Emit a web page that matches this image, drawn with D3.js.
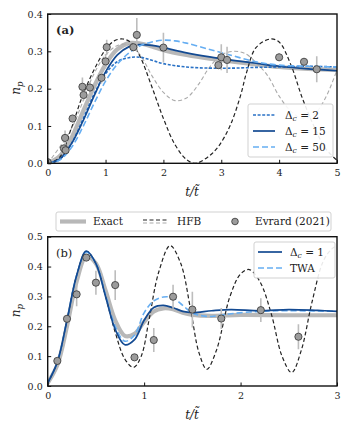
<!DOCTYPE html>
<html>
<head>
<meta charset="utf-8">
<script src="https://cdn.jsdelivr.net/npm/d3@7"></script>
<style>
  body { margin: 0; background: #fff; }
  text { font-family: "DejaVu Serif", serif; }
</style>
</head>
<body>
<div id="chart"></div>
<script>
// ---- panel (a) curves, [t, n_p] ----
const exactA = [[0,0],[0.2,0.018],[0.4,0.065],[0.6,0.135],[0.8,0.205],[1.0,0.265],[1.2,0.305],[1.4,0.322],[1.6,0.321],[1.8,0.313],[2.0,0.303],[2.4,0.29],[2.8,0.28],[3.2,0.272],[3.6,0.265],[4.0,0.258],[4.5,0.253],[5.0,0.25]];
const hfbA = [[0,0],[0.2,0.015],[0.4,0.09],[0.6,0.18],[0.8,0.25],[1.0,0.305],[1.15,0.328],[1.3,0.333],[1.45,0.322],[1.6,0.285],[1.8,0.205],[2.0,0.12],[2.2,0.05],[2.4,0.01],[2.55,0],[2.77,0.017],[2.95,0.045],[3.15,0.1],[3.33,0.18],[3.44,0.245],[3.6,0.31],[3.85,0.333],[4.0,0.325],[4.2,0.265],[4.4,0.175],[4.6,0.1],[4.8,0.04],[5.0,0.008]];
const hfbGrayA = [[0,0],[0.4,0.09],[0.8,0.24],[1.0,0.29],[1.2,0.315],[1.4,0.318],[1.6,0.29],[1.8,0.235],[2.0,0.19],[2.2,0.168],[2.4,0.175],[2.6,0.21],[2.8,0.258],[3.0,0.29],[3.2,0.3],[3.4,0.295],[3.6,0.27],[3.8,0.235],[4.0,0.18],[4.2,0.14],[4.4,0.12],[4.6,0.13],[4.8,0.175],[5.0,0.25]];
const dc2A = [[0,0],[0.2,0.01],[0.4,0.05],[0.6,0.115],[0.8,0.185],[1.0,0.24],[1.2,0.272],[1.4,0.283],[1.6,0.284],[1.8,0.276],[2.0,0.267],[2.4,0.258],[2.8,0.255],[3.2,0.255],[3.6,0.257],[4.0,0.258],[4.5,0.26],[5.0,0.258]];
const dc15A = [[0,0],[0.2,0.01],[0.4,0.05],[0.6,0.11],[0.8,0.18],[1.0,0.245],[1.2,0.29],[1.4,0.312],[1.6,0.318],[1.8,0.316],[2.0,0.31],[2.4,0.296],[2.8,0.285],[3.2,0.276],[3.6,0.268],[4.0,0.26],[4.5,0.253],[5.0,0.248]];
const dc50A = [[0,0],[0.2,0.008],[0.4,0.04],[0.6,0.095],[0.8,0.16],[1.0,0.22],[1.2,0.265],[1.4,0.295],[1.6,0.315],[1.8,0.325],[2.0,0.33],[2.2,0.328],[2.4,0.322],[2.8,0.305],[3.2,0.288],[3.6,0.272],[4.0,0.263],[4.5,0.26],[5.0,0.258]];

// Evrard (2021) points, panel (a)
const evrA_t = [0.0, 0.28, 0.30, 0.31, 0.43, 0.60, 0.62, 0.73, 0.93, 1.0, 1.02, 1.48, 1.54, 2.0, 2.95, 3.0, 3.1, 4.0, 4.43, 4.65];
const evrA_n = [0.003, 0.04, 0.068, 0.035, 0.12, 0.205, 0.183, 0.203, 0.229, 0.273, 0.311, 0.311, 0.344, 0.31, 0.263, 0.284, 0.277, 0.284, 0.272, 0.252];
const evrA_e = [0.005, 0.01, 0.02, 0.01, 0.01, 0.025, 0.015, 0.015, 0.015, 0.02, 0.02, 0.01, 0.045, 0.04, 0.01, 0.035, 0.035, 0.01, 0.01, 0.035];

// ---- panel (b) curves ----
const exactB = [[0,0.01],[0.1,0.07],[0.2,0.2],[0.3,0.35],[0.4,0.435],[0.5,0.41],[0.6,0.32],[0.7,0.22],[0.8,0.168],[0.9,0.175],[1.0,0.215],[1.1,0.25],[1.2,0.26],[1.3,0.257],[1.4,0.245],[1.5,0.238],[1.7,0.235],[2.0,0.238],[2.5,0.237],[3.0,0.237]];
const hfbB = [[0,0.01],[0.1,0.08],[0.2,0.22],[0.3,0.37],[0.4,0.45],[0.5,0.41],[0.6,0.3],[0.7,0.18],[0.8,0.09],[0.89,0.062],[0.97,0.1],[1.05,0.22],[1.15,0.38],[1.27,0.47],[1.38,0.41],[1.48,0.26],[1.57,0.11],[1.65,0.056],[1.75,0.12],[1.89,0.3],[2.0,0.375],[2.09,0.39],[2.2,0.35],[2.32,0.24],[2.43,0.1],[2.53,0.045],[2.63,0.12],[2.74,0.28],[2.86,0.42],[2.95,0.46],[3.0,0.47]];
const dc1B = [[0,0.01],[0.1,0.08],[0.2,0.22],[0.3,0.37],[0.4,0.452],[0.5,0.41],[0.6,0.3],[0.7,0.19],[0.8,0.138],[0.9,0.155],[1.0,0.22],[1.1,0.263],[1.2,0.27],[1.3,0.262],[1.4,0.25],[1.5,0.246],[1.7,0.252],[1.9,0.256],[2.2,0.252],[2.5,0.256],[2.8,0.253],[3.0,0.25]];
const twaB = [[0,0.01],[0.1,0.08],[0.2,0.22],[0.3,0.37],[0.4,0.448],[0.5,0.41],[0.6,0.305],[0.7,0.2],[0.8,0.15],[0.9,0.17],[1.0,0.245],[1.1,0.285],[1.2,0.298],[1.3,0.295],[1.4,0.27],[1.5,0.245],[1.6,0.235],[1.7,0.233],[1.9,0.242],[2.2,0.25],[2.5,0.252],[3.0,0.25]];

// Evrard (2021) points, panel (b)
const evrB_t = [0.1, 0.2, 0.3, 0.4, 0.5, 0.7, 0.9, 1.1, 1.3, 1.5, 1.8, 2.21, 2.6];
const evrB_n = [0.084, 0.225, 0.307, 0.43, 0.346, 0.338, 0.096, 0.154, 0.299, 0.256, 0.226, 0.254, 0.165];
const evrB_e = [0.01, 0.01, 0.04, 0.01, 0.04, 0.05, 0.01, 0.04, 0.04, 0.06, 0.035, 0.04, 0.042];

const ticksA_x = [0, 1, 2, 3, 4, 5];
const ticksA_y = [0, 0.1, 0.2, 0.3, 0.4];
const ticksB_x = [0, 1, 2, 3];
const ticksB_y = [0, 0.1, 0.2, 0.3, 0.4, 0.5];

// colours
const cExact = "#b8b8b8", cHfb = "#222", cHfbGray = "#aaaaaa";
const cDc2 = "#2a72c6", cDc15 = "#134a92", cDc50 = "#66aef2";
const cPt = "#9c9c9c", cErr = "#bdbdbd";

const svg = d3.select("#chart").append("svg").attr("width", 350).attr("height", 432);

function panel(opt) {
  const x = d3.scaleLinear().domain(opt.xDom).range([47.7, 337]);
  const y = d3.scaleLinear().domain(opt.yDom).range([opt.bottom, opt.top]);
  const g = svg.append("g");

  g.append("clipPath").attr("id", opt.id)
    .append("rect").attr("x", 47.7).attr("y", opt.top)
    .attr("width", 337 - 47.7).attr("height", opt.bottom - opt.top);

  const plot = g.append("g").attr("clip-path", `url(#${opt.id})`);
  const line = d3.line().x(d => x(d[0])).y(d => y(d[1])).curve(d3.curveCatmullRom.alpha(0.5));

  opt.series.forEach(s => {
    plot.append("path").attr("d", line(s.data))
      .attr("fill", "none").attr("stroke", s.color).attr("stroke-width", s.w)
      .attr("stroke-dasharray", s.dash || null).attr("stroke-linecap", s.dash ? "butt" : "round");
  });

  // error bars + points
  const pts = opt.pt.map((t, i) => ({ t, n: opt.pn[i], e: opt.pe[i] }));
  plot.selectAll(".err").data(pts).enter().append("line")
    .attr("x1", d => x(d.t)).attr("x2", d => x(d.t))
    .attr("y1", d => y(d.n - d.e)).attr("y2", d => y(d.n + d.e))
    .attr("stroke", cErr).attr("stroke-width", 1.6);
  plot.selectAll(".pt").data(pts).enter().append("circle")
    .attr("cx", d => x(d.t)).attr("cy", d => y(d.n)).attr("r", 3.6)
    .attr("fill", cPt).attr("stroke", "#333").attr("stroke-width", 0.8);

  // axes, ticks pointing inward
  const ax = g.append("g").attr("transform", `translate(0,${opt.bottom})`)
    .call(d3.axisBottom(x).tickValues(opt.xt).tickFormat(d3.format("d")).tickSizeInner(-3.5).tickSizeOuter(0).tickPadding(6));
  const ay = g.append("g").attr("transform", "translate(47.7,0)")
    .call(d3.axisLeft(y).tickValues(opt.yt).tickFormat(d3.format(".1f")).tickSizeInner(-3.5).tickSizeOuter(0).tickPadding(5));
  [ax, ay].forEach(a => {
    a.select(".domain").remove();
    a.selectAll(".tick line").attr("stroke", "#111").attr("stroke-width", 1);
    a.selectAll("text").attr("font-family", "DejaVu Serif").attr("font-size", 9.5).attr("fill", "#222");
  });

  g.append("rect").attr("x", 47.7).attr("y", opt.top)
    .attr("width", 337 - 47.7).attr("height", opt.bottom - opt.top)
    .attr("fill", "none").attr("stroke", "#111").attr("stroke-width", 1.4);

  // panel letter
  g.append("text").attr("x", 56).attr("y", opt.top + 20).attr("font-size", 11.5)
    .attr("font-weight", opt.bold ? "bold" : "normal").attr("fill", "#222").text(opt.label);

  // y label n_p
  const yl = g.append("text").attr("transform", `translate(20,${(opt.top + opt.bottom) / 2 + 6}) rotate(-90)`)
    .attr("font-size", 12).attr("fill", "#222");
  yl.append("tspan").attr("font-style", "italic").text("n");
  yl.append("tspan").attr("font-style", "italic").attr("font-size", 8.5).attr("dy", 3).text("p");

  // x label t/t~
  g.append("text").attr("x", 192).attr("y", opt.bottom + 33).attr("text-anchor", "middle")
    .attr("font-size", 12).attr("font-style", "italic").attr("fill", "#222").text("t/t\u0303");

  return { x, y };
}

panel({
  id: "clipA", top: 14, bottom: 163.3, xDom: [0, 5], yDom: [0, 0.4], xt: ticksA_x, yt: ticksA_y,
  label: "(a)", bold: true,
  series: [
    { data: exactA, color: cExact, w: 4.2 },
    { data: hfbGrayA, color: cHfbGray, w: 1.1, dash: "4,2.5" },
    { data: hfbA, color: cHfb, w: 1.2, dash: "4,2.5" },
    { data: dc2A, color: cDc2, w: 1.6, dash: "3,1.6" },
    { data: dc15A, color: cDc15, w: 1.7 },
    { data: dc50A, color: cDc50, w: 1.6, dash: "6,3" }
  ],
  pt: evrA_t, pn: evrA_n, pe: evrA_e
});

panel({
  id: "clipB", top: 236.7, bottom: 386, xDom: [0, 3], yDom: [0, 0.5], xt: ticksB_x, yt: ticksB_y,
  label: "(b)", bold: false,
  series: [
    { data: exactB, color: cExact, w: 4.2 },
    { data: hfbB, color: cHfb, w: 1.2, dash: "4,2.5" },
    { data: twaB, color: cDc50, w: 1.6, dash: "6,3" },
    { data: dc1B, color: cDc15, w: 1.7 }
  ],
  pt: evrB_t, pn: evrB_n, pe: evrB_e
});

// ---- legends ----
function legendBox(x, y, w, h) {
  svg.append("rect").attr("x", x).attr("y", y).attr("width", w).attr("height", h).attr("rx", 2)
    .attr("fill", "#fff").attr("fill-opacity", 0.9).attr("stroke", "#cccccc").attr("stroke-width", 0.9);
}
function deltaLabel(x, y, val) {
  const t = svg.append("text").attr("x", x).attr("y", y + 3.5).attr("font-size", 10.5).attr("fill", "#222");
  t.append("tspan").text("\u0394");
  t.append("tspan").attr("font-style", "italic").attr("font-size", 7.5).attr("dy", 2.5).text("c");
  t.append("tspan").attr("dy", -2.5).text(" = " + val);
}

// panel (a) legend
const legA = [
  { v: "2", color: cDc2, dash: "3,1.6" },
  { v: "15", color: cDc15, dash: null },
  { v: "50", color: cDc50, dash: "6,3" }
];
legendBox(248, 104, 85, 53);
legA.forEach((d, i) => {
  const yy = 115 + i * 16;
  svg.append("line").attr("x1", 253).attr("x2", 275).attr("y1", yy).attr("y2", yy)
    .attr("stroke", d.color).attr("stroke-width", 1.7).attr("stroke-dasharray", d.dash);
  deltaLabel(285, yy, d.v);
});

// panel (b) legend
legendBox(254, 242, 81, 36);
[{ v: "dc", color: cDc15, dash: null, y: 252 }, { v: "twa", color: cDc50, dash: "6,3", y: 268 }].forEach(d => {
  svg.append("line").attr("x1", 258).attr("x2", 282).attr("y1", d.y).attr("y2", d.y)
    .attr("stroke", d.color).attr("stroke-width", 1.7).attr("stroke-dasharray", d.dash);
});
deltaLabel(290, 252, "1");
svg.append("text").attr("x", 290).attr("y", 271.5).attr("font-size", 10.5).attr("fill", "#222").text("TWA");

// shared legend between the panels
legendBox(56, 212, 275, 19);
const ly = 221.5;
svg.append("line").attr("x1", 60).attr("x2", 86).attr("y1", ly).attr("y2", ly)
  .attr("stroke", cExact).attr("stroke-width", 4.2);
svg.append("text").attr("x", 93).attr("y", ly + 3.5).attr("font-size", 10.5).attr("fill", "#222").text("Exact");
svg.append("line").attr("x1", 143).attr("x2", 168).attr("y1", ly - 1.5).attr("y2", ly - 1.5)
  .attr("stroke", cHfb).attr("stroke-width", 1.1).attr("stroke-dasharray", "4,2.5");
svg.append("line").attr("x1", 143).attr("x2", 168).attr("y1", ly + 1.5).attr("y2", ly + 1.5)
  .attr("stroke", cHfbGray).attr("stroke-width", 1.1).attr("stroke-dasharray", "4,2.5");
svg.append("text").attr("x", 177).attr("y", ly + 3.5).attr("font-size", 10.5).attr("fill", "#222").text("HFB");
svg.append("circle").attr("cx", 235).attr("cy", ly).attr("r", 3.3)
  .attr("fill", cPt).attr("stroke", "#333").attr("stroke-width", 0.8);
svg.append("text").attr("x", 255).attr("y", ly + 3.5).attr("font-size", 10.5).attr("fill", "#222").text("Evrard (2021)");
</script>
</body>
</html>
